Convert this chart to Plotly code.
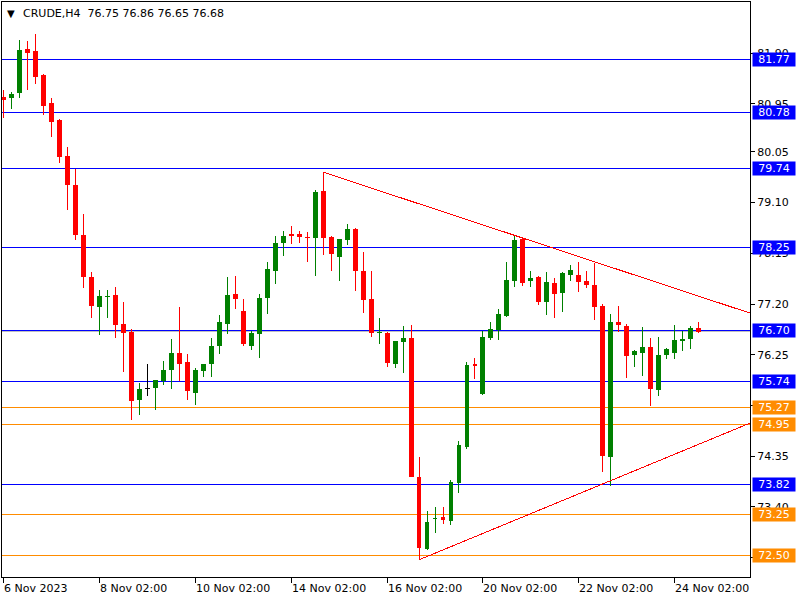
import plotly.graph_objects as go

# ---- data (H4 candles, CRUDE) ----
opens = [81.08, 81.05, 81.15, 81.98, 81.94, 81.48, 80.96, 80.65, 79.97, 79.43,
         78.49, 77.71, 77.15, 77.35, 77.37, 76.83, 76.68, 75.41, 75.62, 75.63,
         75.76, 75.97, 76.28, 76.11, 75.54, 75.95, 76.08, 76.42, 76.83, 77.39,
         77.07, 76.42, 76.64, 77.32, 77.82, 78.35, 78.51, 78.51, 78.45, 78.44,
         79.32, 78.46, 78.09, 78.40, 78.61, 77.82, 77.29, 76.67, 76.66, 76.08,
         76.49, 76.56, 73.97, 72.62, 73.19, 73.21, 73.14, 73.85, 74.52, 76.08,
         75.52, 76.57, 76.71, 76.98, 77.64, 78.42, 77.64, 77.71, 77.24, 77.59,
         77.41, 77.74, 77.74, 77.63, 77.56, 77.16, 74.34, 76.86, 76.79, 76.25,
         76.28, 76.40, 75.59, 76.25, 76.28, 76.51, 76.55, 76.75]
highs = [81.21, 81.17, 82.14, 82.13, 82.26, 81.50, 81.06, 80.67, 80.14, 79.73,
         78.89, 77.80, 77.46, 77.46, 77.52, 77.24, 76.73, 75.72, 76.08, 75.78,
         76.14, 76.55, 77.15, 76.26, 76.00, 76.08, 76.56, 76.99, 77.70, 77.73,
         77.30, 76.70, 77.39, 77.99, 78.48, 78.57, 78.66, 78.57, 78.54, 79.34,
         79.67, 78.48, 78.42, 78.70, 78.63, 78.17, 77.82, 76.94, 76.68, 76.51,
         76.78, 76.81, 74.34, 73.32, 73.39, 73.39, 73.91, 74.64, 76.11, 76.19,
         76.70, 76.86, 77.11, 77.99, 78.47, 78.44, 77.82, 77.73, 77.80, 77.69,
         77.80, 77.93, 77.98, 77.82, 77.97, 77.20, 77.01, 77.16, 76.83, 76.34,
         76.77, 76.56, 76.58, 76.38, 76.81, 76.70, 76.79, 76.86]
lows = [80.68, 80.86, 81.06, 81.20, 81.32, 80.74, 80.33, 79.85, 78.96, 78.40,
        77.50, 76.94, 76.62, 76.93, 76.57, 75.93, 75.03, 75.12, 75.47, 75.22,
        75.68, 75.61, 75.76, 75.40, 75.31, 75.84, 75.83, 76.27, 76.63, 77.11,
        76.42, 76.34, 76.19, 77.01, 77.58, 78.10, 78.32, 78.35, 77.99, 77.72,
        78.12, 77.82, 77.64, 78.31, 77.45, 77.04, 76.58, 76.46, 76.03, 76.01,
        75.91, 73.96, 72.41, 72.59, 72.92, 73.08, 73.06, 73.66, 74.48, 75.80,
        75.50, 76.53, 76.53, 76.96, 77.51, 77.54, 77.52, 77.19, 77.00, 76.93,
        77.06, 77.64, 77.43, 77.50, 76.90, 74.05, 73.79, 76.68, 75.81, 76.02,
        75.85, 75.29, 75.48, 76.17, 76.17, 76.32, 76.36, 76.65]
closes = [81.02, 81.13, 81.96, 81.91, 81.46, 80.91, 80.61, 79.96, 79.42, 78.49,
          77.71, 77.16, 77.35, 77.35, 76.81, 76.66, 75.39, 75.61, 75.62, 75.78,
          75.96, 76.28, 76.08, 75.58, 75.96, 76.08, 76.41, 76.86, 77.37, 77.30,
          76.45, 76.66, 77.31, 77.86, 78.35, 78.47, 78.48, 78.46, 78.45, 79.30,
          78.44, 78.14, 78.42, 78.61, 77.82, 77.28, 76.66, 76.67, 76.10, 76.51,
          76.56, 73.97, 72.63, 73.12, 73.19, 73.16, 73.87, 74.56, 76.06, 76.05,
          76.58, 76.73, 77.01, 77.65, 78.40, 77.60, 77.69, 77.24, 77.61, 77.39,
          77.79, 77.84, 77.61, 77.56, 77.15, 74.36, 76.86, 76.81, 76.23, 76.32,
          76.40, 75.61, 76.25, 76.36, 76.53, 76.55, 76.75, 76.68]

tick_index = [0, 12, 24, 36, 48, 60, 72, 84]
tick_labels = ["6 Nov 2023", "8 Nov 02:00", "10 Nov 02:00", "14 Nov 02:00",
               "16 Nov 02:00", "20 Nov 02:00", "22 Nov 02:00", "24 Nov 02:00"]

price_ticks = [81.90, 80.95, 80.05, 79.10, 78.15, 77.20, 76.25, 75.30, 74.35, 73.40, 72.45]

levels_blue = [81.77, 80.78, 79.74, 78.25, 76.70, 75.74, 73.82]
levels_orange = [75.27, 74.95, 73.25, 72.50]
bid_price = 76.68

trend_down_x = [40, 93.4]
trend_down_y = [79.67, 77.03]
trend_up_x = [52, 93.4]
trend_up_y = [72.41, 74.97]

title_text = "CRUDE,H4  76.75 76.86 76.65 76.68"

# ---- styles ----
GREEN = "#008000"
RED = "#FF0000"
BLUE = "#0000FF"
ORANGE = "#FF8C00"
FONT = "DejaVu Sans"
doji_colors = {13: GREEN, 18: "#000000", 38: RED, 47: GREEN, 54: GREEN}

n = len(opens)
idx = list(range(n))

fig = go.Figure()

# horizontal levels
for lv in levels_blue:
    fig.add_shape(type="line", xref="paper", x0=0, x1=1, yref="y", y0=lv, y1=lv,
                  line=dict(color=BLUE, width=1), layer="below")
for lv in levels_orange:
    fig.add_shape(type="line", xref="paper", x0=0, x1=1, yref="y", y0=lv, y1=lv,
                  line=dict(color=ORANGE, width=1), layer="below")
fig.add_shape(type="line", xref="paper", x0=0, x1=1, yref="y", y0=bid_price, y1=bid_price,
              line=dict(color="#C0C0C0", width=1), layer="below")

# wicks
def wick_xy(sel):
    xs, ys = [], []
    for i in sel:
        xs += [i, i, None]
        ys += [lows[i], highs[i], None]
    return xs, ys

up = [i for i in idx if closes[i] > opens[i]]
dn = [i for i in idx if closes[i] < opens[i]]
dj = [i for i in idx if closes[i] == opens[i]]

for sel, col in ((up, GREEN), (dn, RED)):
    wx, wy = wick_xy(sel)
    fig.add_trace(go.Scatter(x=wx, y=wy, mode="lines", line=dict(color=col, width=1),
                             hoverinfo="skip", showlegend=False))
    fig.add_trace(go.Bar(x=sel, base=[min(opens[i], closes[i]) for i in sel],
                         y=[max(abs(closes[i] - opens[i]), 0.02) for i in sel],
                         width=0.62, marker=dict(color=col, line=dict(width=0)),
                         hoverinfo="skip", showlegend=False))

for i in dj:
    col = doji_colors.get(i, "#000000")
    fig.add_trace(go.Scatter(x=[i, i, None, i - 0.31, i + 0.31], y=[lows[i], highs[i], None, opens[i], opens[i]],
                             mode="lines", line=dict(color=col, width=1),
                             hoverinfo="skip", showlegend=False))

# trend lines
fig.add_trace(go.Scatter(x=trend_down_x, y=trend_down_y, mode="lines",
                         line=dict(color=RED, width=1), hoverinfo="skip", showlegend=False))
fig.add_trace(go.Scatter(x=trend_up_x, y=trend_up_y, mode="lines",
                         line=dict(color=RED, width=1), hoverinfo="skip", showlegend=False))

annotations = []
# price boxes
for lv, col in [(v, BLUE) for v in levels_blue] + [(v, ORANGE) for v in levels_orange]:
    annotations.append(dict(xref="paper", yref="y", x=1.0027, y=lv, xanchor="left", yanchor="middle",
                            text=f"{lv:.2f}", showarrow=False, bgcolor=col, width=42, height=13,
                            borderpad=0, align="center",
                            font=dict(family=FONT, size=11, color="white")))
# x labels
for ti, tl in zip(tick_index, tick_labels):
    annotations.append(dict(xref="x", yref="paper", x=ti, y=0, xanchor="left", yanchor="top",
                            xshift=-1.5, yshift=-3, text=tl, showarrow=False,
                            font=dict(family=FONT, size=11, color="black")))
# title
annotations.append(dict(xref="paper", yref="paper", x=0.004, y=1, xanchor="left", yanchor="top",
                        yshift=-4, text="▼", showarrow=False,
                        font=dict(family=FONT, size=10, color="black")))
annotations.append(dict(xref="paper", yref="paper", x=0.0254, y=1, xanchor="left", yanchor="top",
                        yshift=-3, text=title_text, showarrow=False,
                        font=dict(family=FONT, size=11, color="black")))

fig.update_layout(
    width=800, height=600,
    margin=dict(l=2, r=50, t=2, b=23),
    paper_bgcolor="white", plot_bgcolor="white",
    barmode="overlay", bargap=0,
    showlegend=False,
    annotations=annotations,
    font=dict(family=FONT, size=11, color="black"),
    xaxis=dict(range=[-0.16, 93.4], tickvals=tick_index, ticks="outside", ticklen=5,
               tickcolor="black", showticklabels=False, showgrid=False, zeroline=False,
               showline=True, mirror=True, linecolor="black", linewidth=1, fixedrange=True),
    yaxis=dict(side="right", range=[72.088, 82.856], tickvals=price_ticks,
               ticktext=[f"{v:.2f}" for v in price_ticks], ticks="outside", ticklen=4,
               tickcolor="black", showgrid=False, zeroline=False, showline=True, mirror=True,
               linecolor="black", linewidth=1, tickfont=dict(family=FONT, size=11, color="black"),
               fixedrange=True),
)

css = "<style>.shapelayer path, .scatterlayer .js-line {shape-rendering: crispEdges;}</style>"
fig.write_html("out.html", config={"displayModeBar": False},
               post_script=("document.body.style.margin='0';document.body.style.overflow='hidden';"
                            "document.head.insertAdjacentHTML('beforeend', '" + css + "');"))
